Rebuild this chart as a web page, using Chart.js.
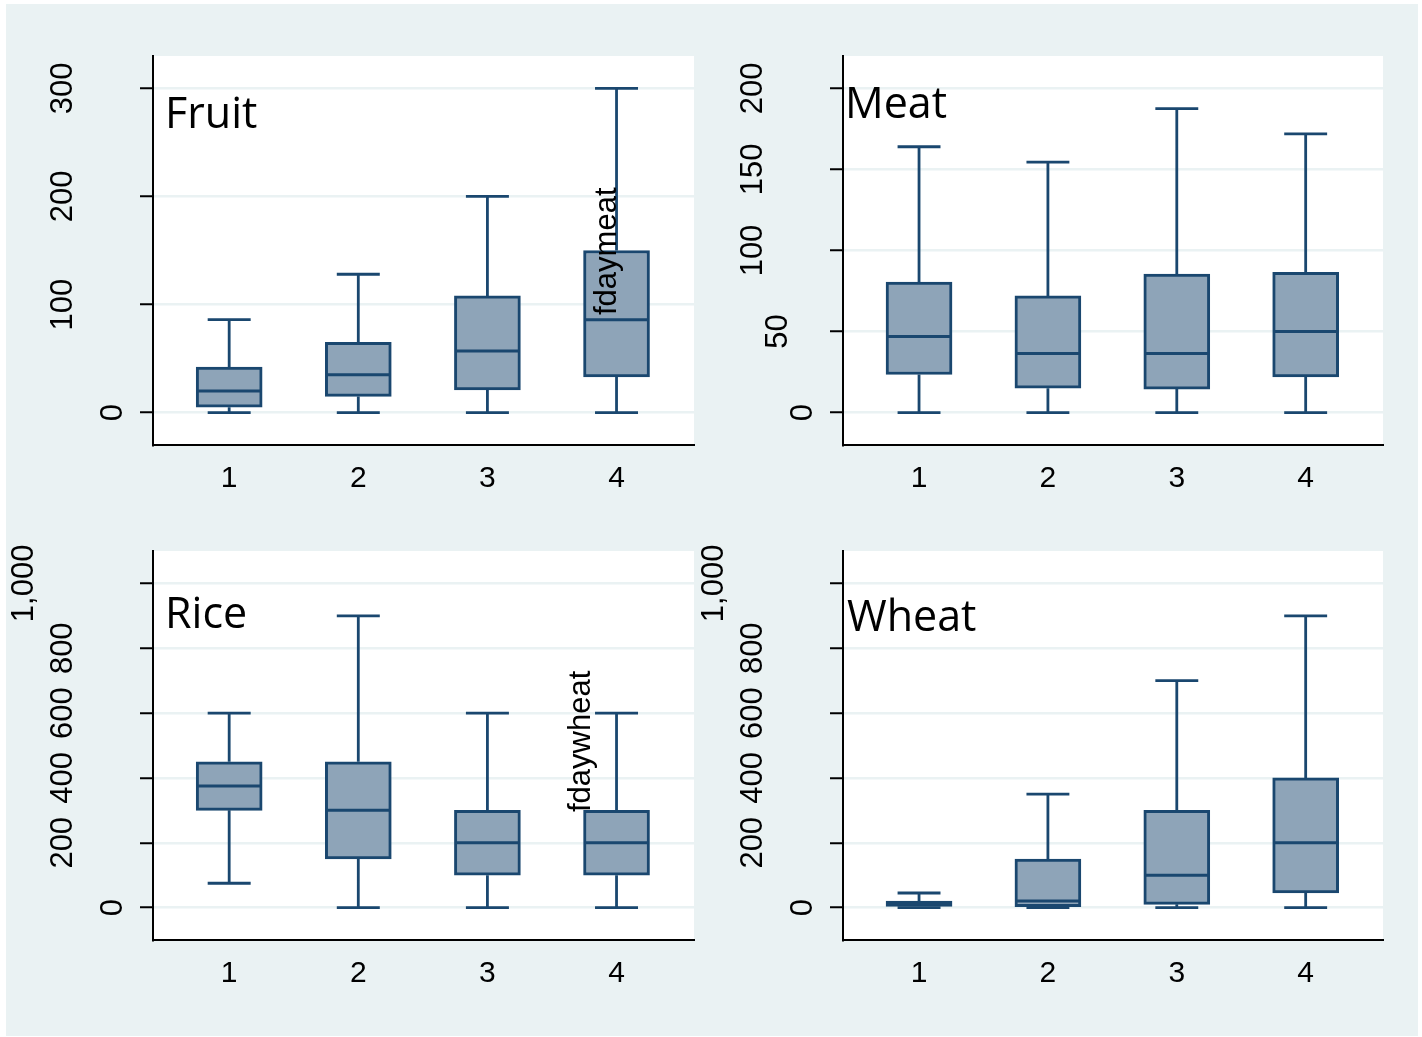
<!DOCTYPE html>
<html>
<head>
<meta charset="utf-8">
<title>Daily intake by group</title>
<script src="https://cdn.jsdelivr.net/npm/chart.js@4.4.1/dist/chart.umd.min.js"></script>
<style>
  html, body { margin: 0; padding: 0; background: #ffffff; }
  #frame { position: absolute; left: 6px; top: 4px; width: 1412px; height: 1032px; background: #EAF2F3; }
  canvas { position: absolute; }
</style>
</head>
<body>
<div id="frame"></div>
<canvas id="fruit" width="700" height="520" style="left:0px;top:0px"></canvas>
<canvas id="meat" width="722" height="520" style="left:700px;top:0px"></canvas>
<canvas id="rice" width="700" height="517" style="left:0px;top:520px"></canvas>
<canvas id="wheat" width="722" height="517" style="left:700px;top:520px"></canvas>
<script>
// ---- data -------------------------------------------------------------
const categories = ['1', '2', '3', '4'];

const fruitLow  = [0, 0, 0, 0];
const fruitQ1   = [5, 15, 21, 33];
const fruitMed  = [20, 35, 57, 86];
const fruitQ3   = [42, 65, 108, 150];
const fruitHigh = [86, 128, 200, 300];
const fruitTicks = [0, 100, 200, 300];

const meatLow  = [0, 0, 0, 0];
const meatQ1   = [23.5, 15, 14.5, 22];
const meatMed  = [47, 36.5, 36.5, 50];
const meatQ3   = [80.5, 72, 85.5, 86.5];
const meatHigh = [164, 154.5, 187.5, 172];
const meatTicks = [0, 50, 100, 150, 200];

const riceLow  = [75, 0, 0, 0];
const riceQ1   = [300, 150, 100, 100];
const riceMed  = [375, 300, 200, 200];
const riceQ3   = [450, 450, 300, 300];
const riceHigh = [600, 900, 600, 600];
const riceTicks = [0, 200, 400, 600, 800, 1000];

const wheatLow  = [0, 0, 0, 0];
const wheatQ1   = [0, 3, 10, 45];
const wheatMed  = [10, 20, 100, 200];
const wheatQ3   = [20, 150, 300, 400];
const wheatHigh = [45, 350, 700, 900];
const wheatTicks = [0, 200, 400, 600, 800, 1000];

// ---- styling ----------------------------------------------------------
const NAVY = '#1A476F';
const BOX_FILL = 'rgb(142,164,184)';
const GRID = '#EAF2F3';
const CAP_HALF = 0.1665;   // whisker cap half-width, x units
const MED_HALF = 0.245;    // median line half-width, x units
const SANS = '"Liberation Sans", Arial, sans-serif';
const TICK_FONT = '31px ' + SANS;
const TITLE_FONT = '43px "Open Sans", sans-serif';

// white plot region
const plotBackground = {
  id: 'plotBackground',
  beforeDraw(chart) {
    const a = chart.chartArea, ctx = chart.ctx;
    ctx.save();
    ctx.fillStyle = '#ffffff';
    ctx.fillRect(a.left, a.top, a.right - a.left, a.bottom - a.top);
    ctx.restore();
  }
};

// rotated y tick labels, panel title and stray axis caption
const panelText = {
  id: 'panelText',
  afterDraw(chart, args, opts) {
    const ctx = chart.ctx, a = chart.chartArea, ys = chart.scales.y;
    ctx.save();
    ctx.fillStyle = '#000000';
    ctx.font = TICK_FONT;
    ctx.textAlign = 'center';
    ctx.textBaseline = 'middle';
    ys.ticks.forEach(t => {
      const label = t.value.toLocaleString('en-US');
      const w = ctx.measureText(label).width;
      const cx = a.left - (14.6 + 1.478 * w);
      const cy = ys.getPixelForValue(t.value);
      ctx.save();
      ctx.translate(cx, cy);
      ctx.rotate(-Math.PI / 2);
      ctx.fillText(label, 0, 1);
      ctx.restore();
    });

    ctx.font = TITLE_FONT;
    ctx.textAlign = 'left';
    ctx.textBaseline = 'alphabetic';
    ctx.fillText(opts.title, a.left + opts.titleDx, a.top + opts.titleDy);

    if (opts.caption) {
      ctx.font = TICK_FONT;
      ctx.save();
      ctx.translate(opts.caption.x, opts.caption.y);
      ctx.rotate(-Math.PI / 2);
      ctx.textAlign = 'left';
      ctx.fillText(opts.caption.text, 0, 0);
      ctx.restore();
    }
    ctx.restore();
  }
};

function boxChart(id, s, layout) {
  const xs = categories.map((c, i) => i + 1);

  const boxes = xs.map((x, i) => ({ x: x, y: [s.q1[i], s.q3[i]] }));

  const whiskers = [];
  xs.forEach((x, i) => {
    whiskers.push(
      { x: x, y: s.low[i] }, { x: x, y: s.q1[i] }, { x: x, y: null },
      { x: x, y: s.q3[i] }, { x: x, y: s.high[i] }, { x: x, y: null },
      { x: x - CAP_HALF, y: s.low[i] }, { x: x + CAP_HALF, y: s.low[i] }, { x: x, y: null },
      { x: x - CAP_HALF, y: s.high[i] }, { x: x + CAP_HALF, y: s.high[i] }, { x: x, y: null }
    );
  });

  const medians = [];
  xs.forEach((x, i) => {
    medians.push({ x: x - MED_HALF, y: s.med[i] }, { x: x + MED_HALF, y: s.med[i] }, { x: x, y: null });
  });

  const lineStyle = {
    type: 'line', borderColor: NAVY, borderWidth: 2.8, pointRadius: 0,
    spanGaps: false, tension: 0, fill: false, borderCapStyle: 'butt'
  };

  return new Chart(document.getElementById(id), {
    type: 'bar',
    data: {
      datasets: [
        Object.assign({ label: 'median', data: medians, order: 0 }, lineStyle, { borderWidth: 3 }),
        {
          type: 'bar', label: 'box', data: boxes, order: 1,
          backgroundColor: BOX_FILL, borderColor: NAVY, borderWidth: 3,
          borderSkipped: false, barThickness: 66
        },
        Object.assign({ label: 'whiskers', data: whiskers, order: 2 }, lineStyle)
      ]
    },
    options: {
      responsive: false,
      animation: false,
      events: [],
      layout: { padding: { top: layout.top, right: layout.right, bottom: 0, left: 0 } },
      plugins: {
        legend: { display: false },
        tooltip: { enabled: false },
        panelText: layout.text
      },
      scales: {
        x: {
          type: 'linear', min: 0.41, max: 4.6, offset: false,
          afterBuildTicks: sc => { sc.ticks = xs.map(v => ({ value: v })); },
          afterFit: sc => { sc.height = layout.xAxisHeight; },
          grid: { display: false, drawTicks: false, tickLength: 0 },
          border: { display: true, color: '#000000', width: 2 },
          ticks: {
            callback: v => categories[v - 1],
            font: { family: SANS, size: 30 },
            color: '#000000', padding: 16, maxRotation: 0, autoSkip: false
          }
        },
        y: {
          min: s.min, max: s.max,
          afterBuildTicks: sc => { sc.ticks = s.ticks.map(v => ({ value: v })); },
          afterFit: sc => { sc.width = layout.yAxisWidth; },
          grid: { color: GRID, lineWidth: 2.5, drawTicks: true, tickLength: 13, tickColor: '#000000', tickWidth: 2 },
          border: { display: true, color: '#000000', width: 2 },
          ticks: { display: false }
        }
      }
    },
    plugins: [plotBackground, panelText]
  });
}

boxChart('fruit',
  { low: fruitLow, q1: fruitQ1, med: fruitMed, q3: fruitQ3, high: fruitHigh, ticks: fruitTicks, min: -30, max: 330 },
  { top: 56, right: 6, xAxisHeight: 75, yAxisWidth: 153,
    text: { title: 'Fruit', titleDx: 12, titleDy: 72, caption: { text: 'fdaymeat', x: 616, y: 315 } } });

boxChart('meat',
  { low: meatLow, q1: meatQ1, med: meatMed, q3: meatQ3, high: meatHigh, ticks: meatTicks, min: -20, max: 220 },
  { top: 56, right: 39, xAxisHeight: 75, yAxisWidth: 143,
    text: { title: 'Meat', titleDx: 2, titleDy: 62 } });

boxChart('rice',
  { low: riceLow, q1: riceQ1, med: riceMed, q3: riceQ3, high: riceHigh, ticks: riceTicks, min: -100, max: 1100 },
  { top: 31, right: 6, xAxisHeight: 97, yAxisWidth: 153,
    text: { title: 'Rice', titleDx: 12, titleDy: 77, caption: { text: 'fdaywheat', x: 590, y: 292 } } });

boxChart('wheat',
  { low: wheatLow, q1: wheatQ1, med: wheatMed, q3: wheatQ3, high: wheatHigh, ticks: wheatTicks, min: -100, max: 1100 },
  { top: 31, right: 39, xAxisHeight: 97, yAxisWidth: 143,
    text: { title: 'Wheat', titleDx: 4, titleDy: 80 } });
</script>
</body>
</html>
